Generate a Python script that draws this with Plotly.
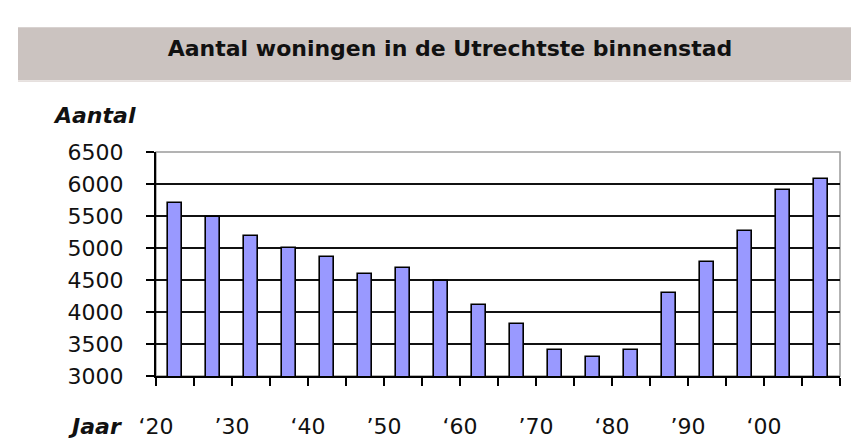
import plotly.graph_objects as go

# Data
period_start = [1920, 1925, 1930, 1935, 1940, 1945, 1950, 1955, 1960,
                 1965, 1970, 1975, 1980, 1985, 1990, 1995, 2000, 2005]
woningen = [5710, 5490, 5190, 5000, 4860, 4590, 4680, 4480, 4110,
            3810, 3400, 3290, 3400, 4290, 4780, 5270, 5900, 6085]
decade_vals = [1920, 1930, 1940, 1950, 1960, 1970, 1980, 1990, 2000, 2010]
decade_text = ["\u201820", "\u201930", "\u201840", "\u201950", "\u201860",
               "\u201970", "\u201880", "\u201990", "\u201800", ""]
y_ticks = [3000, 3500, 4000, 4500, 5000, 5500, 6000, 6500]

title_text = "Aantal woningen in de Utrechtste binnenstad"

FONT = "DejaVu Sans"

x_mid = [s + 2.5 for s in period_start]

fig = go.Figure()
fig.add_trace(go.Bar(
    x=x_mid, y=woningen, width=[1.95] * len(x_mid),
    marker=dict(color="#9999ff", line=dict(color="#000000", width=1.6)),
    hoverinfo="x+y", showlegend=False,
))

fig.update_layout(
    width=859, height=443,
    margin=dict(l=148, r=27, t=144, b=62),
    paper_bgcolor="white", plot_bgcolor="white",
    bargap=0,
    title=dict(text="<b>" + title_text + "</b>", xref="container", yref="container",
               x=442 / 859, y=1 - 40 / 443, xanchor="center", yanchor="middle",
               font=dict(family=FONT, size=22, color="#111111")),
    shapes=[
        dict(type="rect", xref="paper", yref="paper",
             x0=(10 - 148) / 684, x1=(859 - 148) / 684,
             y0=(381 - 68) / 237, y1=(381 - 12) / 237,
             fillcolor="#cbc3c0", line=dict(width=0), layer="below"),
        dict(type="rect", xref="paper", yref="paper",
             x0=(10 - 148) / 684, x1=(859 - 148) / 684,
             y0=(381 - 70) / 237, y1=(381 - 68) / 237,
             fillcolor="#e6e0de", line=dict(width=0), layer="below"),
        dict(type="rect", xref="paper", yref="paper", x0=0, x1=1, y0=0, y1=1,
             line=dict(color="#9a9a9a", width=1.5), layer="below"),
    ],
    annotations=[
        dict(text="<b><i>Aantal</i></b>", xref="paper", yref="paper",
             x=(43 - 148) / 684, y=(381 - 105) / 237, xanchor="left", yanchor="middle",
             showarrow=False, font=dict(family=FONT, size=22, color="#111111")),
        dict(text="<b><i>Jaar</i></b>", xref="paper", yref="paper",
             x=(116 - 148) / 684, y=(381 - 434) / 237, xanchor="right", yanchor="middle",
             showarrow=False, font=dict(family=FONT, size=22, color="#111111")),
    ],
)

fig.update_xaxes(
    range=[1920, 2010],
    tickmode="array", tickvals=decade_vals, ticktext=decade_text,
    ticks="outside", ticklen=8, tickwidth=2, tickcolor="#000000",
    minor=dict(tickmode="linear", tick0=1920, dtick=5, ticks="outside",
               ticklen=8, tickwidth=2, tickcolor="#000000", showgrid=False),
    showline=True, linecolor="#000000", linewidth=2,
    showgrid=False, zeroline=False,
    ticklabelstandoff=22,
    tickfont=dict(family=FONT, size=22, color="#111111"),
)
fig.update_yaxes(
    range=[3000, 6500],
    tickmode="array", tickvals=y_ticks,
    ticks="outside", ticklen=8, tickwidth=2, tickcolor="#000000",
    showline=True, linecolor="#000000", linewidth=2,
    showgrid=True, gridcolor="#111111", gridwidth=2,
    zeroline=False,
    ticklabelstandoff=18,
    tickfont=dict(family=FONT, size=22, color="#111111"),
)

fig.write_html("out.html")
